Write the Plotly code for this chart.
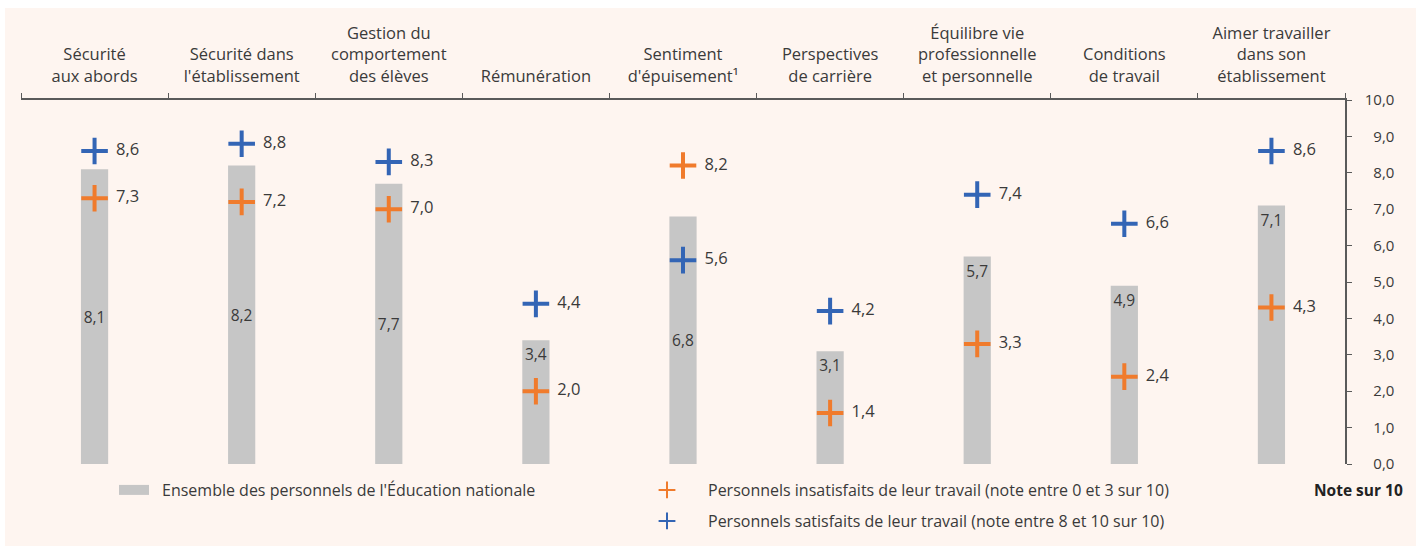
import plotly.graph_objects as go

# categories (top axis) and values, note out of 10
categories = [
    "Sécurité<br>aux abords",
    "Sécurité dans<br>l'établissement",
    "Gestion du<br>comportement<br>des élèves",
    "Rémunération",
    "Sentiment<br>d'épuisement¹",
    "Perspectives<br>de carrière",
    "Équilibre vie<br>professionnelle<br>et personnelle",
    "Conditions<br>de travail",
    "Aimer travailler<br>dans son<br>établissement",
]
ensemble = [8.1, 8.2, 7.7, 3.4, 6.8, 3.1, 5.7, 4.9, 7.1]
insatisfaits = [7.3, 7.2, 7.0, 2.0, 8.2, 1.4, 3.3, 2.4, 4.3]
satisfaits = [8.6, 8.8, 8.3, 4.4, 5.6, 4.2, 7.4, 6.6, 8.6]
# where the bar label sits inside the bar
bar_label_anchor = ["middle", "middle", "middle", "end", "middle", "end", "end", "end", "end"]
y_ticks = list(range(0, 11))

name_ens = "Ensemble des personnels de l'Éducation nationale"
name_ins = "Personnels insatisfaits de leur travail (note entre 0 et 3 sur 10)"
name_sat = "Personnels satisfaits de leur travail (note entre 8 et 10 sur 10)"

GREY = "#C6C6C6"
BLUE = "#3365B5"
ORANGE = "#F07B2C"
TEXT = "#3a3a3a"
BG = "#FEF5F0"
FONT = "Open Sans"


def fr(v):
    return f"{v:.1f}".replace(".", ",")


fig = go.Figure()

# grey bars with the middle labels, then a transparent copy carrying the top labels
for anchor, colour in [("middle", GREY), ("end", "rgba(0,0,0,0)")]:
    fig.add_bar(
        x=categories,
        y=ensemble,
        name=name_ens,
        width=0.185,
        marker=dict(color=colour, line=dict(width=0)),
        text=[fr(v) if a == anchor else "" for v, a in zip(ensemble, bar_label_anchor)],
        textposition="inside",
        insidetextanchor=anchor,
        textangle=0,
        constraintext="none",
        textfont=dict(family=FONT, size=15.5, color=TEXT),
        showlegend=False,
        hoverinfo="skip",
    )

# legend entry for the bars: a wide grey swatch
fig.add_scatter(
    x=[None], y=[None], mode="lines", name="\u2002" + name_ens,
    line=dict(color=GREY, width=14), legend="legend", hoverinfo="skip",
)

for vals, name, col, leg in [
    (insatisfaits, name_ins, ORANGE, "legend2"),
    (satisfaits, name_sat, BLUE, "legend3"),
]:
    fig.add_scatter(
        x=categories,
        y=vals,
        name=name,
        mode="markers+text",
        marker=dict(symbol="cross-thin", size=19, line=dict(width=4, color=col), color=col),
        text=["  " + fr(v) for v in vals],
        textposition="middle right",
        textfont=dict(family=FONT, size=16.5, color=TEXT),
        legend=leg,
        hoverinfo="skip",
    )

W, H = 1416, 546
ml, mr, mt, mb = 21, 71, 100, 82
pw, ph = W - ml - mr, H - mt - mb


def px_x(p):
    return (p - ml) / pw


def px_y(p):
    return (H - mb - p) / ph


legend_font = dict(family=FONT, size=16, color=TEXT)

fig.update_layout(
    width=W,
    height=H,
    autosize=False,
    margin=dict(l=ml, r=mr, t=mt, b=mb, autoexpand=False),
    paper_bgcolor="white",
    plot_bgcolor="rgba(0,0,0,0)",
    barmode="overlay",
    separators=", ",
    font=dict(family=FONT, color=TEXT),
    xaxis=dict(
        side="top",
        type="category",
        range=[-0.5, len(categories) - 0.5],
        automargin=False,
        showline=True,
        linecolor="#5a5a5a",
        linewidth=1.5,
        ticks="outside",
        tickson="boundaries",
        ticklen=5,
        tickcolor="#5a5a5a",
        ticklabelstandoff=10,
        tickfont=dict(family=FONT, size=16.5, color=TEXT),
        showgrid=False,
        zeroline=False,
    ),
    yaxis=dict(
        side="right",
        range=[0, 10],
        tickvals=y_ticks,
        # figure space keeps the labels right-aligned
        ticktext=[("" if v >= 10 else "\u2007") + fr(v) for v in y_ticks],
        automargin=False,
        showline=True,
        linecolor="#5a5a5a",
        linewidth=1.5,
        ticks="outside",
        ticklen=5,
        tickcolor="#5a5a5a",
        ticklabelstandoff=10,
        tickfont=dict(family=FONT, size=15, color=TEXT),
        showgrid=False,
        zeroline=False,
    ),
    legend=dict(x=px_x(114), y=px_y(490), xanchor="left", yanchor="middle",
                font=legend_font, bgcolor="rgba(0,0,0,0)", itemwidth=30),
    legend2=dict(x=px_x(626), y=px_y(490), xanchor="left", yanchor="middle",
                 font=legend_font, bgcolor="rgba(0,0,0,0)", itemwidth=72,
                 itemsizing="constant"),
    legend3=dict(x=px_x(626), y=px_y(521), xanchor="left", yanchor="middle",
                 font=legend_font, bgcolor="rgba(0,0,0,0)", itemwidth=72,
                 itemsizing="constant"),
    shapes=[
        dict(type="rect", xref="paper", yref="paper",
             x0=px_x(5), x1=px_x(W), y0=px_y(H), y1=px_y(8),
             fillcolor=BG, line=dict(width=0), layer="below"),
    ],
    annotations=[
        dict(text="<b>Note sur 10</b>", xref="paper", yref="paper",
             x=px_x(1405), y=px_y(490), xanchor="right", yanchor="middle",
             showarrow=False, font=dict(family=FONT, size=15.5, color="#222")),
    ],
)

fig.write_html("out.html", config={"displayModeBar": False},
               post_script="document.body.style.margin='0';")
